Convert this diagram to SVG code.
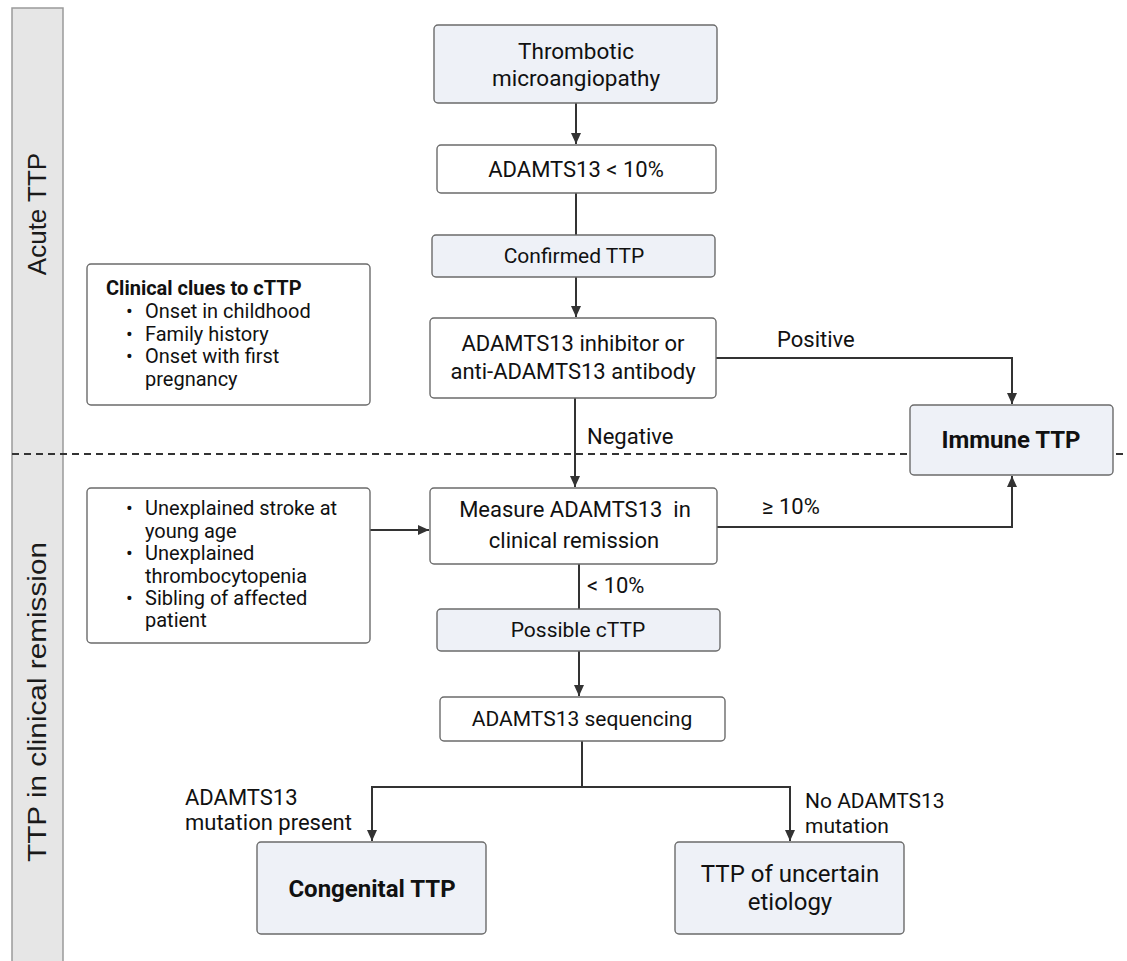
<svg xmlns="http://www.w3.org/2000/svg" width="1127" height="961" viewBox="0 0 1127 961">
<style>
.box{stroke:#6b6b6b;stroke-width:1.4;}
.w{fill:#ffffff;}
.l{fill:#eef1f7;}
.t{font-family:Roboto,"Noto Sans",sans-serif;font-size:22px;fill:#111;}
.c{text-anchor:middle;}
.b{font-weight:bold;font-size:24px;}
.s{font-size:22px;}
.li{font-size:20px;}
.band{font-family:"Liberation Sans",Arial,sans-serif;font-size:26px;fill:#1a1a1a;text-anchor:middle;}
.con path{fill:none;stroke:#333;stroke-width:2;}
</style>
<defs>
<marker id="ah" markerWidth="12" markerHeight="12" refX="11" refY="5.5" orient="auto" markerUnits="userSpaceOnUse">
<path d="M0,0.5 L11,5.5 L0,10.5 Z" fill="#333"/>
</marker>
</defs>
<rect width="1127" height="961" fill="#ffffff"/>
<g id="band">
<rect x="12" y="8" width="51" height="960" fill="#e6e6e6" stroke="#9a9a9a" stroke-width="1.5"/>
<text class="band" transform="translate(46,214) rotate(-90)">Acute TTP</text>
<text class="band" transform="translate(46,702) rotate(-90)" textLength="320" lengthAdjust="spacingAndGlyphs">TTP in clinical remission</text>
</g>
<line id="divider" x1="12" y1="454" x2="1127" y2="454" stroke="#333" stroke-width="2" stroke-dasharray="7,5"/>
<g class="con" id="connectors">
<path d="M576,103 V144" marker-end="url(#ah)"/>
<path d="M576,193 V235"/>
<path d="M576,277 V317" marker-end="url(#ah)"/>
<path d="M716,358 H1012 V404" marker-end="url(#ah)"/>
<path d="M575,398 V487" marker-end="url(#ah)"/>
<path d="M717,527 H1012 V476" marker-end="url(#ah)"/>
<path d="M370,530 H429" marker-end="url(#ah)"/>
<path d="M579,563 V609"/>
<path d="M579,651 V696" marker-end="url(#ah)"/>
<path d="M582,741 V787"/>
<path d="M372,787 H790"/>
<path d="M372,786 V841" marker-end="url(#ah)"/>
<path d="M790,786 V841" marker-end="url(#ah)"/>
</g>
<g id="labels">
<text class="t s" x="777" y="347">Positive</text>
<text class="t s" x="587" y="444">Negative</text>
<text class="t s" x="762" y="514">≥ 10%</text>
<text class="t s" x="587" y="593">&lt; 10%</text>
<text class="t s" x="185" y="805">ADAMTS13</text>
<text class="t s" x="185" y="830">mutation present</text>
<text class="t" x="805" y="808" style="font-size:21px">No ADAMTS13</text>
<text class="t" x="805" y="833" style="font-size:21px">mutation</text>
</g>
<g id="tma">
<rect class="box l" x="434" y="25" width="283" height="78" rx="4"/>
<text class="t c" x="576" y="59" style="font-size:22.5px">Thrombotic</text>
<text class="t c" x="576" y="86" style="font-size:22.5px">microangiopathy</text>
</g>
<g id="adamts-low">
<rect class="box w" x="437" y="145" width="279" height="48" rx="4"/>
<text class="t c" x="576" y="177">ADAMTS13 &lt; 10%</text>
</g>
<g id="confirmed">
<rect class="box l" x="432" y="235" width="283" height="42" rx="4"/>
<text class="t c" x="574" y="263" style="font-size:21px">Confirmed TTP</text>
</g>
<g id="inhibitor">
<rect class="box w" x="430" y="318" width="286" height="80" rx="4"/>
<text class="t c" x="573" y="351">ADAMTS13 inhibitor or</text>
<text class="t c" x="573" y="379">anti-ADAMTS13 antibody</text>
</g>
<g id="immune">
<rect class="box l" x="910" y="405" width="203" height="70" rx="4"/>
<text class="t c b" x="1011" y="448">Immune TTP</text>
</g>
<g id="clues1">
<rect class="box w" x="87" y="264" width="283" height="141" rx="4"/>
<text class="t b" x="106" y="295" style="font-size:20px">Clinical clues to cTTP</text>
<g class="t li">
<text x="126" y="318">•</text><text x="145" y="318">Onset in childhood</text>
<text x="126" y="341">•</text><text x="145" y="341">Family history</text>
<text x="126" y="363">•</text><text x="145" y="363">Onset with first</text>
<text x="145" y="386">pregnancy</text>
</g>
</g>
<g id="measure">
<rect class="box w" x="430" y="488" width="287" height="76" rx="4"/>
<text class="t c" x="575" y="517" xml:space="preserve">Measure ADAMTS13  in</text>
<text class="t c" x="574" y="548">clinical remission</text>
</g>
<g id="clues2">
<rect class="box w" x="87" y="488" width="283" height="155" rx="4"/>
<g class="t li">
<text x="126" y="515">•</text><text x="145" y="515">Unexplained stroke at</text>
<text x="145" y="538">young age</text>
<text x="126" y="560">•</text><text x="145" y="560">Unexplained</text>
<text x="145" y="583">thrombocytopenia</text>
<text x="126" y="605">•</text><text x="145" y="605">Sibling of affected</text>
<text x="145" y="627">patient</text>
</g>
</g>
<g id="possible">
<rect class="box l" x="437" y="609" width="283" height="42" rx="4"/>
<text class="t c" x="578" y="637" style="font-size:21px">Possible cTTP</text>
</g>
<g id="sequencing">
<rect class="box w" x="440" y="697" width="285" height="44" rx="4"/>
<text class="t c" x="582" y="726" style="font-size:21px">ADAMTS13 sequencing</text>
</g>
<g id="congenital">
<rect class="box l" x="257" y="842" width="229" height="92" rx="4"/>
<text class="t c b" x="372" y="897">Congenital TTP</text>
</g>
<g id="uncertain">
<rect class="box l" x="675" y="842" width="229" height="92" rx="4"/>
<text class="t c" x="790" y="882" style="font-size:24px">TTP of uncertain</text>
<text class="t c" x="790" y="910" style="font-size:24px">etiology</text>
</g>
</svg>
